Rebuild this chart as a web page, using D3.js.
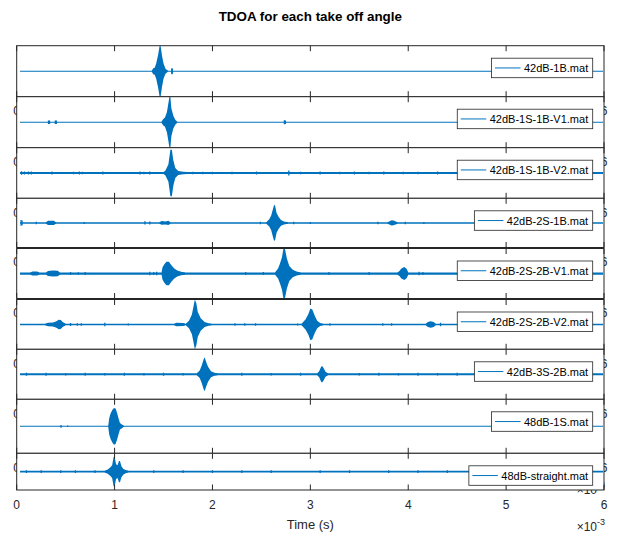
<!DOCTYPE html>
<html>
<head>
<meta charset="utf-8">
<script src="https://cdn.jsdelivr.net/npm/d3@7"></script>
<style>
body { margin: 0; background: #fff; }
svg { display: block; font-family: "Liberation Sans", Arial, sans-serif; }
</style>
</head>
<body>
<div class="container"></div>
<script>
// one legend entry per subplot
const files = ["42dB-1B.mat", "42dB-1S-1B-V1.mat", "42dB-1S-1B-V2.mat", "42dB-2S-1B.mat",
    "42dB-2S-2B-V1.mat", "42dB-2S-2B-V2.mat", "42dB-3S-2B.mat", "48dB-1S.mat", "48dB-straight.mat"];
const xTicks = [0, 1, 2, 3, 4, 5, 6];   // x 10^-3 s
const tStart = 0.034, tEnd = 5.99;

// baseline noise level of each trace (fraction of y limit)
const floors = [0.02, 0.02, 0.035, 0.03, 0.045, 0.03, 0.04, 0.02, 0.05];

// burst envelopes: [time (ms), amplitude as fraction of y limit]
const bursts1 = [
    [[1.38,0.02],[1.395,0.12],[1.41,0.14],[1.425,0.3],[1.445,0.65],[1.46,1],[1.47,1],[1.485,0.6],[1.5,0.3],[1.52,0.1],[1.545,0.02]]
];
const bursts2 = [
    [[1.48,0.02],[1.495,0.12],[1.515,0.18],[1.535,0.4],[1.55,0.75],[1.56,1],[1.57,1],[1.58,0.55],[1.6,0.25],[1.62,0.1],[1.64,0.02]]
];
const bursts3 = [
    [[1.5,0.03],[1.52,0.1],[1.55,0.35],[1.57,0.92],[1.585,0.92],[1.6,0.5],[1.62,0.2],[1.65,0.08],[1.7,0.05],[1.75,0.03]]
];
const bursts4 = [
    [[0.3,0.03],[0.32,0.09],[0.38,0.09],[0.4,0.03]],
    [[1.46,0.03],[1.48,0.08],[1.52,0.06],[1.55,0.09],[1.57,0.03]],
    [[2.55,0.03],[2.58,0.15],[2.6,0.3],[2.62,0.6],[2.63,0.74],[2.64,0.7],[2.655,0.4],[2.675,0.25],[2.7,0.12],[2.73,0.06],[2.77,0.03]],
    [[3.79,0.03],[3.83,0.11],[3.85,0.1],[3.89,0.03]]
];
const bursts5 = [
    [[0.14,0.045],[0.16,0.08],[0.21,0.08],[0.23,0.045]],
    [[0.3,0.045],[0.32,0.1],[0.37,0.12],[0.42,0.11],[0.44,0.045]],
    [[1.48,0.05],[1.49,0.25],[1.51,0.38],[1.53,0.47],[1.555,0.47],[1.58,0.33],[1.61,0.2],[1.64,0.12],[1.68,0.07],[1.72,0.045]],
    [[2.64,0.05],[2.67,0.2],[2.69,0.4],[2.71,0.65],[2.725,1],[2.74,1],[2.76,0.6],[2.785,0.3],[2.82,0.15],[2.86,0.08],[2.9,0.045]],
    [[3.89,0.045],[3.91,0.1],[3.93,0.2],[3.96,0.26],[3.985,0.18],[4.0,0.045]]
];
const bursts6 = [
    [[0.29,0.03],[0.32,0.07],[0.37,0.08],[0.4,0.12],[0.43,0.19],[0.45,0.18],[0.47,0.1],[0.5,0.03]],
    [[1.61,0.03],[1.63,0.07],[1.7,0.06],[1.72,0.04]],
    [[1.73,0.04],[1.76,0.15],[1.79,0.4],[1.81,0.8],[1.82,1],[1.835,0.85],[1.85,0.5],[1.88,0.25],[1.92,0.1],[1.96,0.05],[1.99,0.03]],
    [[2.91,0.03],[2.95,0.2],[2.98,0.42],[3.0,0.64],[3.02,0.6],[3.045,0.35],[3.07,0.15],[3.1,0.06],[3.13,0.03]],
    [[4.18,0.03],[4.2,0.1],[4.23,0.13],[4.26,0.1],[4.28,0.03]]
];
const bursts7 = [
    [[1.84,0.04],[1.87,0.15],[1.89,0.35],[1.91,0.6],[1.92,0.68],[1.935,0.5],[1.955,0.3],[1.985,0.12],[2.02,0.06],[2.05,0.04]],
    [[3.07,0.04],[3.09,0.12],[3.11,0.3],[3.12,0.33],[3.135,0.25],[3.155,0.1],[3.18,0.04]]
];
const bursts8 = [
    [[0.935,0.02],[0.945,0.3],[0.96,0.48],[0.98,0.62],[0.995,0.68],[1.01,0.66],[1.025,0.5],[1.04,0.3],[1.055,0.12],[1.075,0.07],[1.095,0.02]]
];
const bursts9 = [
    [[0.9,0.05],[0.93,0.12],[0.955,0.22],[0.975,0.35],[0.99,0.8],[1.0,0.82],[1.015,0.4],[1.03,0.35],[1.045,0.58],[1.055,0.58],[1.07,0.3],[1.09,0.15],[1.12,0.07],[1.14,0.05]]
];

// isolated little spikes: [time (ms), amplitude]
const spikes1 = [[1.585,0.12],[1.59,0.1]];
const spikes2 = [[0.325,0.07],[0.335,0.07],[0.395,0.07],[0.405,0.07],[2.735,0.08],[2.745,0.07]];
const spikes3 = [[0.05,0.07],[0.08,0.06],[0.12,0.06],[0.15,0.06],[0.36,0.06],[0.58,0.05],[0.64,0.06],[0.67,0.05],[0.88,0.06],[1.26,0.06],[1.3,0.05],[1.36,0.06],[1.8,0.05],[1.9,0.05],[2.0,0.05],[2.2,0.05],[2.45,0.06],[2.78,0.1],[2.9,0.05],[3.1,0.06],[3.3,0.05],[3.45,0.06],[3.6,0.05],[3.75,0.06],[3.95,0.05],[4.1,0.05],[4.3,0.06],[4.6,0.05]];
const spikes4 = [[0.045,0.12],[0.055,0.1],[0.2,0.05],[0.69,0.04],[1.31,0.07],[1.36,0.06],[2.49,0.05],[2.83,0.05],[3.0,0.04],[3.69,0.05],[3.97,0.05],[4.16,0.04]];
const spikes5 = [[0.55,0.06],[0.63,0.05],[0.7,0.06],[1.36,0.07],[1.4,0.06],[1.43,0.07],[2.34,0.06],[2.52,0.06],[3.19,0.06],[3.6,0.06],[4.11,0.07],[4.15,0.06]];
const spikes6 = [[0.55,0.06],[0.62,0.05],[0.66,0.05],[0.9,0.07],[1.14,0.04],[2.23,0.05],[2.33,0.05],[2.44,0.05],[2.87,0.04],[3.2,0.05],[3.74,0.05],[3.83,0.05],[4.33,0.07]];
const spikes7 = [[0.1,0.06],[0.3,0.06],[0.5,0.05],[0.7,0.06],[0.9,0.05],[1.1,0.06],[1.3,0.05],[1.5,0.06],[1.7,0.05],[2.3,0.06],[2.6,0.05],[2.9,0.06],[3.5,0.05],[3.7,0.06],[3.9,0.05],[4.1,0.06],[4.3,0.05],[4.5,0.06]];
const spikes8 = [[0.453,0.05],[0.52,0.03]];
const spikes9 = [[0.1,0.08],[0.25,0.08],[0.45,0.07],[0.6,0.08],[0.8,0.07],[1.4,0.08],[1.7,0.07],[2.0,0.08],[2.3,0.07],[2.6,0.08],[3.1,0.07],[3.4,0.08],[3.8,0.07],[4.1,0.08],[4.4,0.07],[4.7,0.08]];

const bursts = [bursts1, bursts2, bursts3, bursts4, bursts5, bursts6, bursts7, bursts8, bursts9];
const spikes = [spikes1, spikes2, spikes3, spikes4, spikes5, spikes6, spikes7, spikes8, spikes9];

// layout of the stacked subplots (pixels)
const width = 621, height = 533;
const left = 16.7, right = 604;
const rowTops    = [45.7, 96.7, 147.7, 198.3, 248.5, 299.5, 349.3, 399.3, 453.3];
const rowBottoms = [96.7, 147.7, 198.3, 247.5, 298.5, 349.3, 399.3, 453.3, 490];
const blue = "#0072BD", ink = "#262626";
const last = files.length - 1;

const svg = d3.select(".container").append("svg")
    .attr("width", width)
    .attr("height", height);

const x = d3.scaleLinear().domain([0, 6]).range([left, right]);

files.forEach((name, i) => {
    const top = rowTops[i], bottom = rowBottoms[i];
    const f = floors[i];
    const y = d3.scaleLinear().domain([-1, 1]).range([bottom, top]);
    const g = svg.append("g");

    // white axes background hides the labels of the subplot above
    g.append("rect")
        .attr("x", left).attr("y", top)
        .attr("width", right - left).attr("height", bottom - top)
        .attr("fill", "#fff");

    g.append("clipPath").attr("id", "clip" + i)
        .append("rect")
        .attr("x", left).attr("y", top)
        .attr("width", right - left).attr("height", bottom - top);

    const plot = g.append("g").attr("clip-path", `url(#clip${i})`);

    const area = d3.area()
        .x(d => x(d[0]))
        .y0(d => y(-Math.max(d[1], f)))
        .y1(d => y(Math.max(d[1], f)));

    plot.append("path")
        .datum([[tStart, f], [tEnd, f]])
        .attr("d", area)
        .attr("fill", blue);

    plot.selectAll("path.burst")
        .data(bursts[i])
        .join("path")
        .attr("class", "burst")
        .attr("d", area)
        .attr("fill", blue);

    plot.selectAll("line.spike")
        .data(spikes[i])
        .join("line")
        .attr("class", "spike")
        .attr("x1", d => x(d[0])).attr("x2", d => x(d[0]))
        .attr("y1", d => y(-d[1])).attr("y2", d => y(d[1]))
        .attr("stroke", blue)
        .attr("stroke-width", 1.3);

    // box and inward ticks top and bottom
    g.append("rect")
        .attr("x", left).attr("y", top)
        .attr("width", right - left).attr("height", bottom - top)
        .attr("fill", "none")
        .attr("stroke", ink)
        .attr("stroke-width", 1);

    g.selectAll("line.tick")
        .data(xTicks.flatMap(t => [[t, top, top + 5.5], [t, bottom, bottom - 5.5]]))
        .join("line")
        .attr("class", "tick")
        .attr("x1", d => x(d[0])).attr("x2", d => x(d[0]))
        .attr("y1", d => d[1]).attr("y2", d => d[2])
        .attr("stroke", ink);

    // upper subplots: only the end labels peek out from under the next axes
    const shown = i === last ? xTicks : [xTicks[0], xTicks[xTicks.length - 1]];
    g.selectAll("text.tl")
        .data(shown)
        .join("text")
        .attr("class", "tl")
        .attr("x", d => x(d))
        .attr("y", bottom + 18.5)
        .attr("text-anchor", "middle")
        .attr("font-size", 12)
        .attr("fill", ink)
        .text(d => d);

    if (i >= last - 1) {
        const ex = g.append("text")
            .attr("x", right + 1)
            .attr("y", bottom + 41)
            .attr("text-anchor", "end")
            .attr("font-size", 12)
            .attr("fill", ink);
        ex.append("tspan").text("\u00d710");
        ex.append("tspan").attr("dy", -6).attr("font-size", 9).text("-3");
    }

    // legend, north-east
    const lg = g.append("g");
    const lbl = lg.append("text")
        .attr("font-size", 11)
        .attr("fill", "#000")
        .text(name);
    const tw = lbl.node().getComputedTextLength();
    const boxW = 3.5 + 25.5 + 3.5 + tw + 4.5, boxH = 19.5;
    const bx = 592.7 - boxW, by = top + 12.5;
    lg.insert("rect", "text")
        .attr("x", bx).attr("y", by)
        .attr("width", boxW).attr("height", boxH)
        .attr("fill", "#fff")
        .attr("stroke", ink)
        .attr("stroke-width", 0.8);
    lg.insert("line", "text")
        .attr("x1", bx + 3.5).attr("x2", bx + 29)
        .attr("y1", by + boxH / 2).attr("y2", by + boxH / 2)
        .attr("stroke", blue);
    lbl.attr("x", bx + 32.5).attr("y", by + 14);

    if (i === last) {
        g.append("text")
            .attr("x", (left + right) / 2)
            .attr("y", 529)
            .attr("text-anchor", "middle")
            .attr("font-size", 13)
            .attr("fill", ink)
            .text("Time (s)");
    }
});

svg.append("text")
    .attr("x", (left + right) / 2)
    .attr("y", 20.5)
    .attr("text-anchor", "middle")
    .attr("font-size", 13.4)
    .attr("font-weight", "bold")
    .attr("fill", "#000")
    .text("TDOA for each take off angle");
</script>
</body>
</html>
